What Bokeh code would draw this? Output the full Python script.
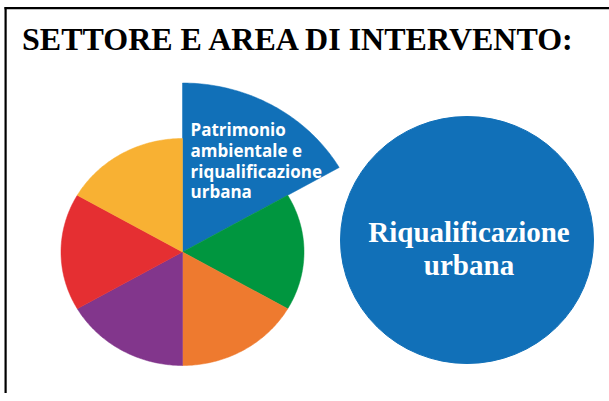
import numpy as np
from bokeh.plotting import figure
from bokeh.models import Range1d, ColumnDataSource
from bokeh.core.properties import value
from bokeh.embed import file_html
from bokeh.resources import INLINE

# ---- data ----
title = "SETTORE E AREA DI INTERVENTO:"
sector_labels = ["Patrimonio ambientale e riqualificazione urbana", "", "", "", "", ""]
sector_shares = [1, 1, 1, 1, 1, 1]
sector_colors = ["#1170B8", "#00963F", "#EE7A2F", "#82368C", "#E52F32", "#F8B133"]
highlight = [True, False, False, False, False, False]
label_lines = ["Patrimonio", "ambientale e", "riqualificazione", "urbana"]
selected_area = ["Riqualificazione", "urbana"]

# ---- layout (reference pixel space) ----
W, H = 612, 393
OX, OY = 0, 0


def X(x):
    return x - OX


def Y(y):
    return H - (y - OY)


p = figure(width=W, height=H, x_range=Range1d(0, W), y_range=Range1d(0, H),
           output_backend="svg", toolbar_location=None, min_border=0,
           margin=(0, 0, 0, 0))
p.axis.visible = False
p.grid.visible = False
p.outline_line_color = None
p.background_fill_color = "white"
p.border_fill_color = "white"

# borders: top and left rules as thin filled bars
p.quad(left=[X(4), X(4)], right=[W, X(6.2)], top=[Y(6.6), Y(6.6)], bottom=[Y(8.8), 0],
       fill_color="black", line_color=None)

# title
p.text(x=[X(21.5)], y=[Y(38.5)], text=[title], text_font=value("Liberation Serif"),
       text_font_style="bold", text_font_size="32px", text_baseline="alphabetic",
       text_align="left", text_color="black")

# pie (slightly elliptical as in the reference)
cx, cy = 182.0, 251.5
rx, ry = 121.5, 113.5
explode = 1.489
total = float(sum(sector_shares))
xs, ys = [], []
start = np.pi / 2
for share, hl in zip(sector_shares, highlight):
    sweep = 2 * np.pi * share / total
    end = start - sweep
    k = explode if hl else 1.0
    t = np.linspace(start, end, 80)
    px = [X(cx)] + list(X(cx + k * rx * np.cos(t)))
    py = [Y(cy)] + list(Y(cy - k * ry * np.sin(t)))
    xs.append(px)
    ys.append(py)
    start = end

src = ColumnDataSource(dict(xs=xs, ys=ys, color=sector_colors, name=sector_labels))
p.patches("xs", "ys", source=src, fill_color="color", line_color="color", line_width=0.5)

# label on highlighted slice
lx = [X(190)] * len(label_lines)
ly = [Y(129.3 + i * 20.6) for i in range(len(label_lines))]
p.text(x=lx, y=ly, text=label_lines, text_font=value("Open Sans"), text_font_style="bold",
       text_font_size="17px", text_baseline="alphabetic", text_align="left",
       text_color="white")

# big circle of the selected area
p.ellipse(x=[X(466.5)], y=[Y(239.5)], width=253, height=247,
          fill_color="#1170B8", line_color="#1170B8")
p.text(x=[X(468.5)] * 2, y=[Y(231), Y(264.3)], text=selected_area,
       text_font=value("Liberation Serif"), text_font_style="bold", text_font_size="29px",
       text_baseline="alphabetic", text_align="center", text_color="white")

open("out.html", "w").write(file_html(p, INLINE))
